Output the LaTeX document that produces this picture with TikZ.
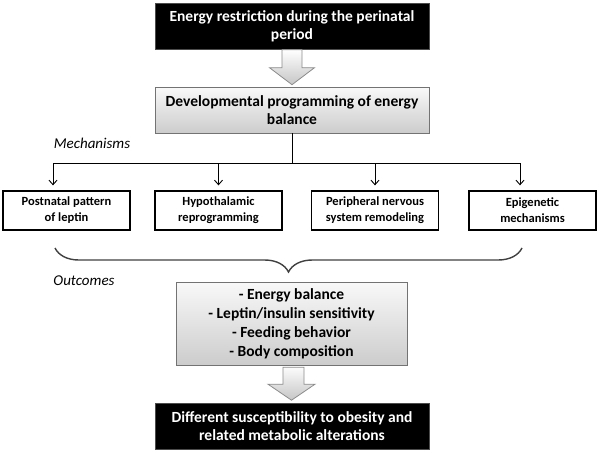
\documentclass[tikz,border=0pt]{standalone}
\usepackage{fontspec}
\setmainfont{Carlito}
\usetikzlibrary{arrows.meta,shadows,decorations.pathreplacing}

\begin{document}
\begin{tikzpicture}[
  x=1pt, y=-1pt,
  darkbox/.style={draw=black!70, fill=black, text=white, minimum width=274pt, minimum height=46pt,
    align=center, inner sep=0pt, font=\fontsize{15.5}{18}\selectfont\bfseries},
  graybox/.style={draw=black!55, top color=gray!5, bottom color=gray!40, minimum width=274pt,
    minimum height=46pt, align=center, inner sep=0pt, font=\fontsize{15.5}{18}\selectfont\bfseries,
    drop shadow={opacity=0.25, shadow xshift=1.2pt, shadow yshift=-1.2pt}},
  mech/.style={draw=black, line width=1.3pt, fill=white, minimum width=127pt, minimum height=39pt,
    align=center, inner sep=0pt, font=\fontsize{12.5}{16}\selectfont\bfseries},
  hint/.style={font=\fontsize{15}{16}\selectfont\itshape},
  fork/.style={draw=black, line width=0.9pt},
  bigarrow/.style={draw=black!45, line width=0.8pt, top color=white, bottom color=gray!45},
  curly/.style={draw=black!75, line width=1.4pt, decorate,
    decoration={brace, amplitude=24pt, mirror}},
  >={Straight Barb[length=4.5pt, width=8pt]}
]
\useasboundingbox (0,0) rectangle (599,452);

% === Top: cause ===
\node[darkbox] (cause) at (292, 26.5) {Energy restriction during the perinatal\\period};
\node[graybox] (prog) at (292, 110) {Developmental programming of energy\\balance};

% block arrow cause -> prog
\draw[bigarrow] (cause.south) ++(-10,0) -- ++(0,18) -- ++(-12.5,0) -- ++(22.5,17)
  -- ++(22.5,-17) -- ++(-12.5,0) -- ++(0,-18) -- cycle;

% === Mechanisms ===
\node[hint] (mlabel) at (92, 143) {Mechanisms};

\node[mech] (M1) at (66.5, 210.5) {Postnatal pattern\\of leptin};
\node[mech] (M2) at (218.5, 210.5) {Hypothalamic\\reprogramming};
\node[mech] (M3) at (375, 210.5) {Peripheral nervous\\system remodeling};
\node[mech] (M4) at (532.5, 210.5) {Epigenetic\\mechanisms};

% fork from prog down to the four boxes
\coordinate (hub) at (prog.south |- 0,163);
\coordinate (F1) at (53, 163);
\coordinate (F4) at (520, 163);
\draw[fork] (prog.south) -- (hub);
\draw[fork] (F1) -- (F4);
\draw[fork, ->, shorten >=5pt] (F1) -- (F1 |- M1.north);
\draw[fork, ->, shorten >=5pt] (hub -| M2.north) -- (M2.north);
\draw[fork, ->, shorten >=5pt] (hub -| M3.north) -- (M3.north);
\draw[fork, ->, shorten >=5pt] (F4) -- (F4 |- M4.north);

% === Outcomes ===
\coordinate (B1) at (55, 248);
\coordinate (B4) at (522, 248);
\draw[curly] (B1) -- (B4);

\node[hint] (olabel) at (84, 281) {Outcomes};

\node[graybox, minimum width=231pt, minimum height=83pt, font=\fontsize{15.5}{19}\selectfont\bfseries]
  (outc) at (291.5, 323.5) {- Energy balance\\- Leptin/insulin sensitivity\\- Feeding behavior\\- Body composition};

\node[darkbox] (result) at (292, 426) {Different susceptibility to obesity and\\related metabolic alterations};

% block arrow outc -> result
\draw[bigarrow] (outc.south) ++(-8.5,2) -- ++(0,17) -- ++(-15,0) -- ++(23.5,16)
  -- ++(23.5,-16) -- ++(-11,0) -- ++(0,-17) -- cycle;

\end{tikzpicture}
\end{document}
